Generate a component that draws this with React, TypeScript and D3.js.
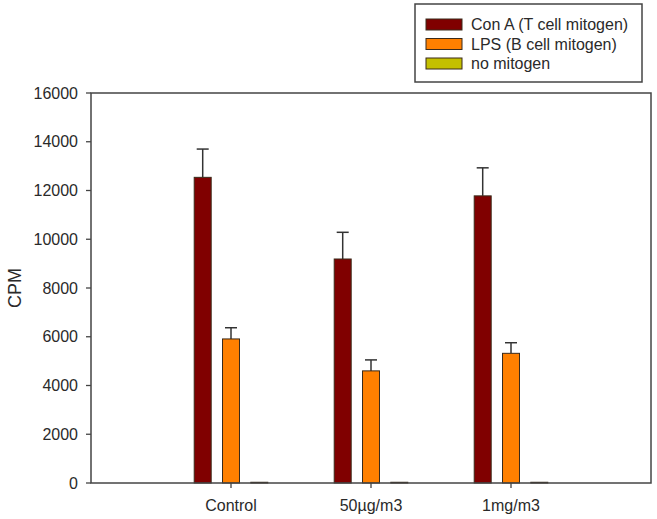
import React from "react";
import * as d3 from "d3";

const categories = ["Control", "50µg/m3", "1mg/m3"];
const seriesNames = ["Con A (T cell mitogen)", "LPS (B cell mitogen)", "no mitogen"];
const conA = [12540, 9190, 11780];
const conAErr = [1160, 1095, 1150];
const lps = [5910, 4600, 5320];
const lpsErr = [460, 450, 435];
const noMitogen = [30, 30, 30];
const noMitogenErr = [0, 0, 0];
const yTicks = [0, 2000, 4000, 6000, 8000, 10000, 12000, 14000, 16000];
const colors = ["#800000", "#ff8000", "#c4c000"];

const width = 657;
const height = 519;
const frame = { left: 91, right: 651, top: 93, bottom: 483 };
const font = "Arial, 'Liberation Sans', sans-serif";

const App = () => {
  const values = [conA, lps, noMitogen];
  const errors = [conAErr, lpsErr, noMitogenErr];

  const xScale = d3.scaleLinear().domain([0, 4]).range([frame.left, frame.right]);
  const yScale = d3.scaleLinear().domain([0, 16000]).range([frame.bottom, frame.top]);
  const inner = d3
    .scaleBand()
    .domain(seriesNames)
    .range([-42.45, 42.45])
    .paddingInner(0.4)
    .paddingOuter(0.2);
  const bw = inner.bandwidth();

  return (
    <svg
      width={width}
      height={height}
      style={{ position: "absolute", left: 0, top: 0, background: "#fff" }}
      fontFamily={font}
    >
      {/* bars + error bars */}
      {seriesNames.map((s, si) =>
        categories.map((c, ci) => {
          const x0 = xScale(ci + 1) + (inner(s) as number);
          const cx = x0 + bw / 2;
          const v = values[si][ci];
          const e = errors[si][ci];
          return (
            <g key={s + c}>
              {e > 0 && (
                <g stroke="#333" strokeWidth={1.5}>
                  <line x1={cx} x2={cx} y1={yScale(v)} y2={yScale(v + e)} />
                  <line x1={cx - 6} x2={cx + 6} y1={yScale(v + e)} y2={yScale(v + e)} />
                </g>
              )}
              <rect
                x={x0}
                y={yScale(v)}
                width={bw}
                height={yScale(0) - yScale(v)}
                fill={colors[si]}
                stroke="#3a2a1a"
                strokeWidth={1}
              />
            </g>
          );
        })
      )}

      {/* frame */}
      <rect
        x={frame.left}
        y={frame.top}
        width={frame.right - frame.left}
        height={frame.bottom - frame.top}
        fill="none"
        stroke="#444"
        strokeWidth={1.5}
      />

      {/* y axis */}
      {yTicks.map((t) => (
        <g key={t}>
          <line x1={frame.left - 5} x2={frame.left} y1={yScale(t)} y2={yScale(t)} stroke="#444" strokeWidth={1.3} />
          <text x={frame.left - 13} y={yScale(t)} dy="0.35em" textAnchor="end" fontSize={16} fill="#2a2a2a">
            {t}
          </text>
        </g>
      ))}
      <text
        transform={`translate(15,${(frame.top + frame.bottom) / 2}) rotate(-90)`}
        textAnchor="middle"
        dy="0.35em"
        fontSize={18}
        fill="#2a2a2a"
      >
        CPM
      </text>

      {/* x axis */}
      {categories.map((c, ci) => (
        <g key={c}>
          <line
            x1={xScale(ci + 1)}
            x2={xScale(ci + 1)}
            y1={frame.bottom}
            y2={frame.bottom + 5}
            stroke="#444"
            strokeWidth={1.3}
          />
          <text x={xScale(ci + 1)} y={frame.bottom + 28} textAnchor="middle" fontSize={16} fill="#2a2a2a">
            {c}
          </text>
        </g>
      ))}

      {/* legend */}
      <rect x={415} y={4} width={227} height={78} fill="#fff" stroke="#444" strokeWidth={1.5} />
      {seriesNames.map((s, si) => (
        <g key={s} transform={`translate(426,${19 + si * 19.5})`}>
          <rect x={0} y={0} width={36} height={11} fill={colors[si]} stroke="#3a2a1a" strokeWidth={1} />
          <text x={45} y={5.5} dy="0.35em" fontSize={16} fill="#2a2a2a">
            {s}
          </text>
        </g>
      ))}
    </svg>
  );
};

export default App;
